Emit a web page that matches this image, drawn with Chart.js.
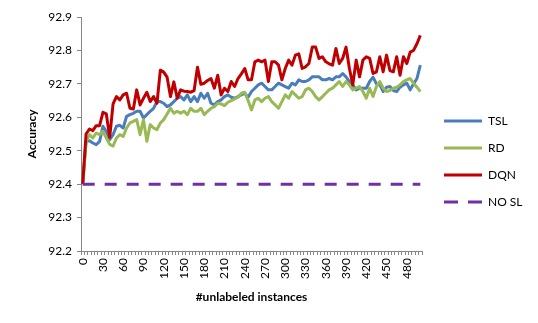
<!DOCTYPE html>
<html>
<head>
<meta charset="utf-8">
<script src="https://cdn.jsdelivr.net/npm/chart.js@4/dist/chart.umd.min.js"></script>
<style>
  html, body { margin: 0; padding: 0; background: #ffffff; }
  #wrap { width: 538px; height: 323px; position: relative; }
</style>
</head>
<body>
<div id="wrap"><canvas id="c" width="538" height="323"></canvas></div>
<script>
// ---- data ----
const categories = [
  0,5,10,15,20,25,30,35,40,45,50,55,60,65,70,75,80,85,90,95,
  100,105,110,115,120,125,130,135,140,145,150,155,160,165,170,175,180,185,190,195,
  200,205,210,215,220,225,230,235,240,245,250,255,260,265,270,275,280,285,290,295,
  300,305,310,315,320,325,330,335,340,345,350,355,360,365,370,375,380,385,390,395,
  400,405,410,415,420,425,430,435,440,445,450,455,460,465,470,475,480,485,490,495,500
];
const xTickLabels = ['0','30','60','90','120','150','180','210','240','270','300','330','360','390','420','450','480'];
const yTickValues = [92.2, 92.3, 92.4, 92.5, 92.6, 92.7, 92.8, 92.9];

const tslValues = [
  92.40,92.528,92.53,92.523,92.518,92.528,92.573,92.558,92.533,92.548,
  92.573,92.576,92.568,92.603,92.608,92.612,92.618,92.618,92.598,92.608,
  92.618,92.627,92.647,92.647,92.642,92.632,92.637,92.647,92.657,92.662,
  92.652,92.667,92.647,92.662,92.647,92.672,92.657,92.672,92.642,92.637,
  92.647,92.652,92.662,92.667,92.66,92.657,92.662,92.667,92.672,92.66,
  92.677,92.687,92.697,92.702,92.692,92.682,92.682,92.692,92.702,92.697,
  92.692,92.687,92.702,92.697,92.712,92.707,92.707,92.712,92.721,92.721,
  92.721,92.712,92.712,92.716,92.712,92.721,92.721,92.731,92.721,92.707,
  92.697,92.682,92.687,92.687,92.687,92.707,92.72,92.70,92.697,92.677,
  92.69,92.692,92.68,92.677,92.69,92.697,92.702,92.682,92.70,92.716,92.756
];
const rdValues = [
  92.40,92.528,92.548,92.538,92.553,92.548,92.558,92.538,92.519,92.514,
  92.538,92.548,92.543,92.568,92.583,92.588,92.593,92.548,92.593,92.528,
  92.578,92.568,92.563,92.583,92.593,92.61,92.627,92.612,92.618,92.612,
  92.618,92.608,92.627,92.618,92.618,92.627,92.608,92.618,92.627,92.632,
  92.642,92.64,92.635,92.645,92.65,92.655,92.66,92.672,92.675,92.65,
  92.622,92.652,92.657,92.647,92.657,92.662,92.647,92.637,92.627,92.647,
  92.667,92.657,92.677,92.667,92.657,92.662,92.682,92.687,92.677,92.662,
  92.652,92.662,92.672,92.682,92.687,92.697,92.707,92.692,92.707,92.697,
  92.682,92.687,92.692,92.677,92.657,92.687,92.662,92.692,92.707,92.687,
  92.677,92.68,92.687,92.69,92.697,92.707,92.712,92.716,92.702,92.69,92.677
];
const dqnValues = [
  92.40,92.55,92.565,92.56,92.575,92.575,92.615,92.61,92.54,92.64,
  92.662,92.652,92.667,92.672,92.627,92.625,92.682,92.637,92.657,92.675,
  92.647,92.662,92.642,92.741,92.735,92.72,92.662,92.706,92.657,92.682,
  92.678,92.677,92.675,92.68,92.75,92.699,92.702,92.71,92.716,92.687,
  92.726,92.667,92.687,92.677,92.707,92.692,92.716,92.73,92.746,92.712,
  92.712,92.766,92.771,92.766,92.771,92.707,92.766,92.766,92.756,92.712,
  92.746,92.771,92.756,92.786,92.79,92.746,92.751,92.761,92.81,92.81,
  92.776,92.781,92.766,92.76,92.756,92.806,92.761,92.776,92.81,92.746,
  92.697,92.771,92.721,92.771,92.781,92.776,92.731,92.736,92.781,92.736,
  92.786,92.74,92.736,92.781,92.726,92.781,92.761,92.795,92.80,92.82,92.845
];
const noSlValues = [
  92.4,92.4,92.4,92.4,92.4,92.4,92.4,92.4,92.4,92.4,
  92.4,92.4,92.4,92.4,92.4,92.4,92.4,92.4,92.4,92.4,
  92.4,92.4,92.4,92.4,92.4,92.4,92.4,92.4,92.4,92.4,
  92.4,92.4,92.4,92.4,92.4,92.4,92.4,92.4,92.4,92.4,
  92.4,92.4,92.4,92.4,92.4,92.4,92.4,92.4,92.4,92.4,
  92.4,92.4,92.4,92.4,92.4,92.4,92.4,92.4,92.4,92.4,
  92.4,92.4,92.4,92.4,92.4,92.4,92.4,92.4,92.4,92.4,
  92.4,92.4,92.4,92.4,92.4,92.4,92.4,92.4,92.4,92.4,
  92.4,92.4,92.4,92.4,92.4,92.4,92.4,92.4,92.4,92.4,
  92.4,92.4,92.4,92.4,92.4,92.4,92.4,92.4,92.4,92.4,92.4
];
const seriesNames = ['TSL', 'RD', 'DQN', 'NO SL'];

// ---- chart ----
const FONT = 'Lato, "Open Sans", sans-serif';
const AXIS_GRAY = '#868686';
const PLOT_RIGHT_MARGIN = 116;   // space kept right of the plot area for the legend
const LEGEND_GAP = 7;            // gap between plot area and legend block

const lineDs = (label, data, color, order, extra) => Object.assign({
  label, data,
  borderColor: color, backgroundColor: color,
  borderWidth: 3, pointRadius: 0, pointHoverRadius: 0,
  tension: 0, borderJoinStyle: 'round', borderCapStyle: 'butt',
  fill: false, order
}, extra || {});

const legendShift = {
  id: 'legendShift',
  afterLayout(chart) {
    const l = chart.legend;
    if (!l) return;
    l.left = chart.chartArea.right + LEGEND_GAP;
    l.right = chart.width;
    l.width = l.right - l.left;
  }
};

new Chart(document.getElementById('c'), {
  type: 'line',
  plugins: [legendShift],
  data: {
    labels: categories.map(String),
    datasets: [
      lineDs(seriesNames[0], tslValues, '#4A7EBB', 4),
      lineDs(seriesNames[1], rdValues, '#98B954', 3),
      lineDs(seriesNames[2], dqnValues, '#C00000', 2),
      lineDs(seriesNames[3], noSlValues, '#7030A0', 1, { borderDash: [12, 10] })
    ]
  },
  options: {
    responsive: false,
    animation: false,
    events: [],
    layout: { padding: { top: 17, right: 0, bottom: 17, left: 0 } },
    plugins: {
      tooltip: { enabled: false },
      title: { display: false },
      legend: {
        position: 'right',
        align: 'center',
        labels: {
          usePointStyle: true,
          pointStyle: 'line',
          pointStyleWidth: 38,
          boxHeight: 12,
          padding: 15,
          color: '#000000',
          font: { family: FONT, size: 12 },
          sort: (a, b) => a.datasetIndex - b.datasetIndex,
          generateLabels: chart => {
            const items = Chart.defaults.plugins.legend.labels.generateLabels(chart);
            return items.map(it => {
              const ds = chart.data.datasets[it.datasetIndex];
              it.strokeStyle = ds.borderColor;
              it.fillStyle = ds.borderColor;
              it.lineWidth = 3;
              it.lineCap = 'butt';
              it.lineDash = ds.borderDash ? [14, 10] : [];
              return it;
            });
          }
        }
      }
    },
    scales: {
      x: {
        type: 'category',
        offset: true,
        grid: {
          display: true, offset: true, drawOnChartArea: false, drawTicks: true,
          tickLength: 4, color: AXIS_GRAY, tickColor: AXIS_GRAY
        },
        border: { display: true, color: AXIS_GRAY, width: 1 },
        ticks: {
          autoSkip: false, maxRotation: 90, minRotation: 90, padding: 3,
          color: '#000000', font: { family: FONT, size: 12 },
          callback: function (value) {
            const lab = this.getLabelForValue(value);
            return xTickLabels.includes(lab) ? lab : '';
          }
        },
        title: {
          display: true, text: '#unlabeled instances', color: '#000000',
          font: { family: FONT, size: 12, weight: 'bold' },
          padding: { top: 0, bottom: 2 }
        },
        afterFit: s => { s.height = 55; s.paddingRight = PLOT_RIGHT_MARGIN; }
      },
      y: {
        min: 92.2, max: 92.9,
        afterBuildTicks: s => { s.ticks = yTickValues.map(v => ({ value: v })); },
        grid: {
          display: true, drawOnChartArea: false, drawTicks: true,
          tickLength: 4, color: AXIS_GRAY, tickColor: AXIS_GRAY
        },
        border: { display: true, color: AXIS_GRAY, width: 1 },
        ticks: {
          padding: 5, color: '#000000', font: { family: FONT, size: 12 },
          callback: v => Number(v).toFixed(1)
        },
        title: {
          display: true, text: 'Accuracy', color: '#000000',
          font: { family: FONT, size: 12, weight: 'bold' },
          padding: { top: 25, bottom: 0 }
        },
        afterFit: s => { s.width = 81; }
      }
    }
  }
});
</script>
</body>
</html>
